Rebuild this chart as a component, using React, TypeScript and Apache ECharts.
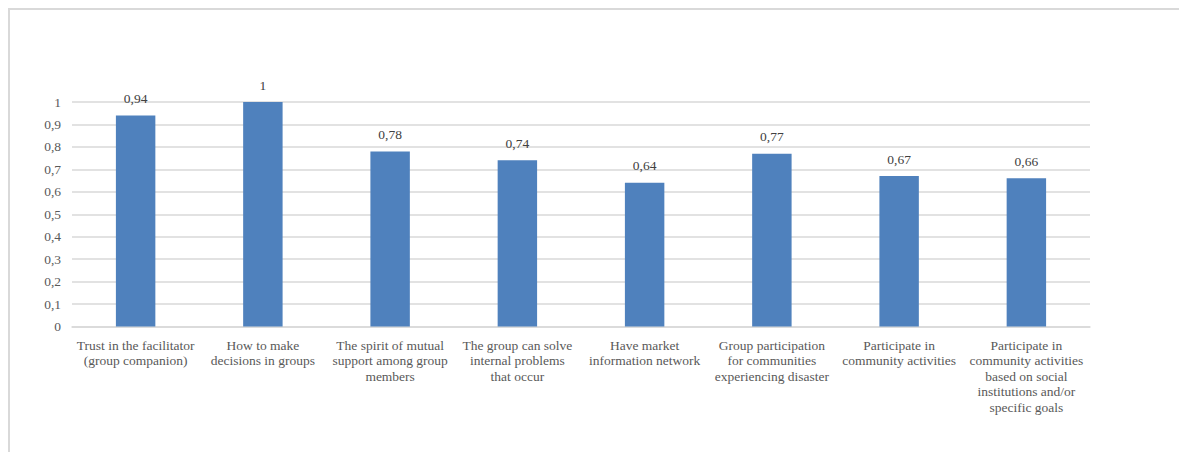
import React, { useEffect, useRef } from "react";
import * as echarts from "echarts";

const categories = [
  "Trust in the facilitator\n(group companion)",
  "How to make\ndecisions in groups",
  "The spirit of mutual\nsupport among group\nmembers",
  "The group can solve\ninternal problems\nthat occur",
  "Have market\ninformation network",
  "Group participation\nfor communities\nexperiencing disaster",
  "Participate in\ncommunity activities",
  "Participate in\ncommunity activities\nbased on social\ninstitutions and/or\nspecific goals",
];
const values = [0.94, 1, 0.78, 0.74, 0.64, 0.77, 0.67, 0.66];

const FONT = "'Liberation Serif', 'DejaVu Serif', serif";
const fmt = (v: number) => String(Math.round(v * 100) / 100).replace(".", ",");

export default function App() {
  const ref = useRef<HTMLDivElement>(null);
  useEffect(() => {
    document.documentElement.style.overflow = "hidden";
    document.body.style.overflow = "hidden";
    const chart = echarts.init(ref.current!, null, { renderer: "svg" });
    chart.setOption({
      animation: false,
      grid: { left: 62, right: 97 + 23, top: 92, height: 224.5, containLabel: false },
      xAxis: {
        type: "category",
        data: categories,
        axisLine: { lineStyle: { color: "#d9d9d9", width: 1.5 } },
        axisTick: { show: false },
        axisLabel: {
          interval: 0,
          color: "#595959",
          fontFamily: FONT,
          fontSize: 13.5,
          lineHeight: 15.5,
          margin: 11,
        },
      },
      yAxis: {
        type: "value",
        min: 0,
        max: 1,
        interval: 0.1,
        axisLine: { show: false },
        axisTick: { show: false },
        splitLine: { lineStyle: { color: "#d9d9d9", width: 1.5 } },
        axisLabel: {
          color: "#595959",
          fontFamily: FONT,
          fontSize: 13.5,
          margin: 11,
          formatter: (v: number) => fmt(v),
        },
      },
      series: [
        {
          type: "bar",
          data: values,
          barWidth: "31%",
          itemStyle: { color: "#4f81bd" },
          label: {
            show: true,
            position: "top",
            distance: 10,
            color: "#404040",
            fontFamily: FONT,
            fontSize: 13.5,
            formatter: (p: any) => fmt(p.value),
          },
        },
      ],
    });
    return () => chart.dispose();
  }, []);
  return (
    <div
      style={{
        width: 1200,
        height: 460,
        borderLeft: "2px solid #d9d9d9",
        borderTop: "2px solid #d9d9d9",
        background: "#fff",
        overflow: "hidden",
      }}
    >
      <div ref={ref} style={{ width: 1200, height: 460 }} />
    </div>
  );
}
